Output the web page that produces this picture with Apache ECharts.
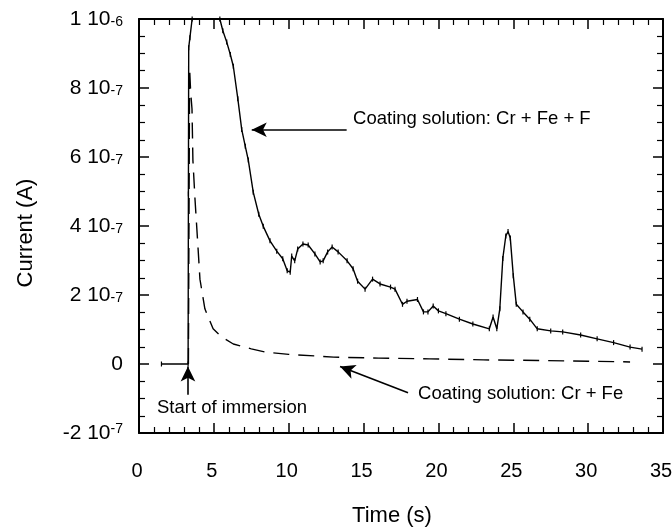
<!DOCTYPE html>
<html>
<head>
<meta charset="utf-8">
<script src="https://cdn.jsdelivr.net/npm/echarts@6/dist/echarts.min.js"></script>
<style>html,body{margin:0;padding:0;background:#fff}#c{width:672px;height:527px}</style>
</head>
<body>
<div id="c"></div>
<script>
// Time (s) and current (A) for coating solution Cr + Fe + F (solid)
var timeF = [1.5,3.28,3.3,3.32,3.4,3.55,5.4,5.6,5.86,6.1,6.3,6.6,6.86,7.1,7.3,7.63,8.0,8.3,8.75,9.2,9.6,9.9,10.1,10.2,10.4,10.6,10.95,11.3,11.75,12.1,12.3,12.6,12.9,13.3,13.9,14.3,14.6,15.1,15.6,16.1,16.8,17.1,17.6,17.9,18.6,19.0,19.3,19.65,20.0,20.5,21.4,22.3,23.4,23.65,23.9,24.1,24.3,24.5,24.65,24.8,25.0,25.2,25.65,26.1,26.6,27.5,28.3,29.5,30.6,31.7,32.8,33.6];
var currentF = [0,0,4.93e-7,9.17e-7,9.46e-7,1.0e-6,1.0e-6,9.66e-7,9.33e-7,8.97e-7,8.63e-7,7.69e-7,6.8e-7,6.31e-7,5.91e-7,4.98e-7,4.34e-7,3.99e-7,3.57e-7,3.27e-7,3.05e-7,2.7e-7,2.66e-7,3.13e-7,2.99e-7,3.33e-7,3.48e-7,3.45e-7,3.19e-7,2.96e-7,2.99e-7,3.25e-7,3.39e-7,3.25e-7,2.99e-7,2.76e-7,2.4e-7,2.17e-7,2.46e-7,2.32e-7,2.23e-7,2.17e-7,1.73e-7,1.82e-7,1.87e-7,1.51e-7,1.51e-7,1.68e-7,1.54e-7,1.46e-7,1.3e-7,1.16e-7,1.02e-7,1.36e-7,1.02e-7,1.6e-7,3.06e-7,3.71e-7,3.84e-7,3.65e-7,2.56e-7,1.73e-7,1.51e-7,1.3e-7,1.02e-7,9.6e-8,9.3e-8,8.4e-8,7.3e-8,6.2e-8,4.9e-8,4.3e-8];
// Coating solution Cr + Fe (dashed)
var timeFe = [3.3,3.38,3.45,3.54,3.6,3.74,3.94,4.07,4.4,4.95,5.5,6.3,7.5,8.5,10,13,16,19.4,23,27,30,32.8];
var currentFe = [0,8.57e-7,7.88e-7,7.39e-7,5.91e-7,4.78e-7,3.39e-7,2.46e-7,1.6e-7,1.02e-7,7.9e-8,5.8e-8,4.4e-8,3.4e-8,2.8e-8,2.0e-8,1.7e-8,1.5e-8,1.2e-8,1.0e-8,8e-9,6e-9];
var xTicks = {min: 0, max: 35, interval: 5};
var yTicks = {min: -2e-7, max: 1e-6, interval: 2e-7};
var annotations = [
  {text: 'Coating solution: Cr + Fe + F', at: [14.3, 7.1e-7], from: [13.87, 6.79e-7], to: [7.53, 6.79e-7]},
  {text: 'Coating solution: Cr + Fe', at: [18.64, -8.8e-8], from: [17.97, -8.3e-8], to: [13.43, -7.5e-9]},
  {text: 'Start of immersion', at: [1.2, -1.28e-7], from: [3.27, -8.9e-8], to: [3.27, -7.5e-9]}
];

function zip(a, b) { return a.map(function (v, i) { return [v, b[i]]; }); }
var FF = 'Liberation Sans, Arial, Helvetica, sans-serif';

function yLabel(v) {
  var n = Math.round(v * 1e7);
  if (n === 0) return '{m|0}';
  if (n === 10) return '{m|1 10}{e|-6}';
  if (n < 0) return '{m|' + n + ' 10}{s|-7}';
  return '{m|' + n + ' 10}{e|-7}';
}

var chart = echarts.init(document.getElementById('c'), null, {renderer: 'canvas'});
function axisBase(extra) {
  return Object.assign({
    type: 'value',
    axisLine: {show: true, onZero: false, lineStyle: {color: '#000', width: 2}},
    axisTick: {show: true, inside: true, length: 10, lineStyle: {color: '#000', width: 1.5}},
    splitLine: {show: false},
    minorSplitLine: {show: false}
  }, extra);
}
var option = {
  animation: false,
  backgroundColor: '#fff',
  grid: {left: 139, right: 9, top: 19, bottom: 94, containLabel: false, outerBoundsMode: 'none'},
  xAxis: [
    axisBase({
      min: xTicks.min, max: xTicks.max, interval: xTicks.interval,
      minorTick: {show: true, splitNumber: 5, length: 6, lineStyle: {color: '#000', width: 1.2}},
      position: 'bottom',
      name: 'Time (s)', nameLocation: 'middle', nameGap: 72,
      nameTextStyle: {fontFamily: FF, fontSize: 22, color: '#000', padding: [0, 18, 0, 0]},
      axisLabel: {fontFamily: FF, fontSize: 20, color: '#000', margin: 28, padding: [0, 4, 0, 0]}
    }),
    axisBase({
      min: xTicks.min, max: xTicks.max, interval: xTicks.interval,
      minorTick: {show: true, splitNumber: 5, length: 6, lineStyle: {color: '#000', width: 1.2}},
      position: 'top', axisLabel: {show: false}
    })
  ],
  yAxis: [
    axisBase({
      min: yTicks.min, max: yTicks.max, interval: yTicks.interval,
      minorTick: {show: true, splitNumber: 4, length: 6, lineStyle: {color: '#000', width: 1.2}},
      position: 'left',
      name: 'Current (A)', nameLocation: 'middle', nameGap: 102, nameRotate: 90,
      nameTextStyle: {fontFamily: FF, fontSize: 22, color: '#000', padding: [0, 14, 0, 0]},
      axisLabel: {
        margin: 16, formatter: yLabel,
        rich: {
          m: {fontFamily: FF, fontSize: 21, color: '#000'},
          e: {fontFamily: FF, fontSize: 14, color: '#000', verticalAlign: 'bottom'},
          s: {fontFamily: FF, fontSize: 14, color: '#000', verticalAlign: 'top'}
        }
      }
    }),
    axisBase({
      min: yTicks.min, max: yTicks.max, interval: yTicks.interval,
      minorTick: {show: true, splitNumber: 4, length: 6, lineStyle: {color: '#000', width: 1.2}},
      position: 'right', axisLabel: {show: false}
    })
  ],
  series: [
    {
      name: 'Cr + Fe', type: 'line', data: zip(timeFe, currentFe),
      showSymbol: false, clip: true, silent: true,
      lineStyle: {color: '#000', width: 1.4, type: [16, 9]}
    },
    {
      name: 'Cr + Fe + F', type: 'line', data: zip(timeF, currentF),
      symbol: 'rect', symbolSize: [1.2, 5], showAllSymbol: true, clip: true, silent: true,
      itemStyle: {color: '#000'},
      lineStyle: {color: '#000', width: 1.4},
      markLine: {
        silent: true, symbol: ['none', 'arrow'], symbolSize: [11, 15],
        label: {show: false},
        lineStyle: {color: '#000', width: 1.6, type: 'solid'},
        data: annotations.map(function (a) { return [{coord: a.from}, {coord: a.to}]; })
      }
    }
  ]
};
chart.setOption(option);
var g = annotations.map(function (a) {
  var p = chart.convertToPixel({gridIndex: 0}, a.at);
  return {type: 'text', x: p[0], y: p[1], style: {text: a.text, fontFamily: FF, fontSize: 18.5, fill: '#000', align: 'left', verticalAlign: 'middle'}};
});
chart.setOption({graphic: g});
</script>
</body>
</html>
